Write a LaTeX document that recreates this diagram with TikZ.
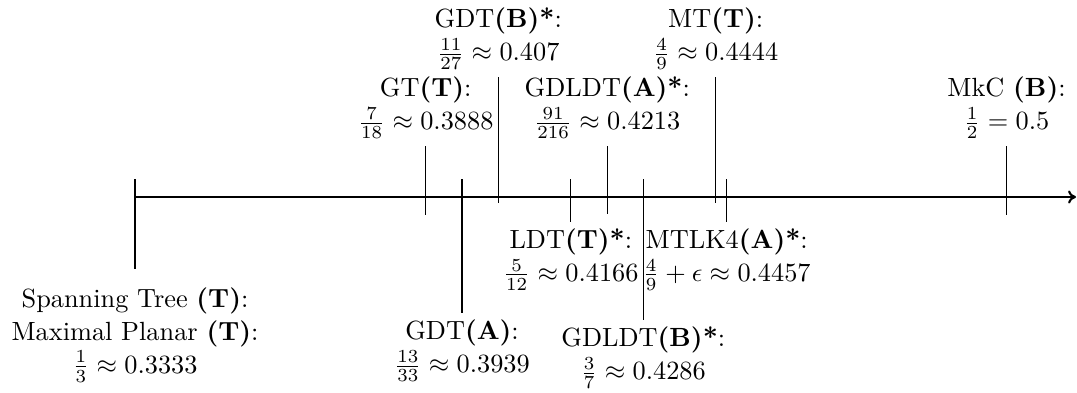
\documentclass[tikz,border=0pt]{standalone}
\usetikzlibrary{arrows.meta}
\begin{document}
\begin{tikzpicture}[x=0.38pt,y=-0.38pt,
  font=\fontsize{10}{12.5}\selectfont,
  axisline/.style={thick,-{To[length=3pt,width=5pt]}},
  tickline/.style={line width=0.4pt},
  uplabel/.style={anchor=south,align=center,inner sep=2.5pt},
  downlabel/.style={anchor=north,align=center,inner sep=2.5pt}]
\useasboundingbox (0,0) rectangle (1077,392);

% axis
\coordinate (axis-start) at (135,197);
\coordinate (axis-end) at (1076,197);
\draw[axisline] (axis-start) -- (axis-end);

% ticks with labels above the axis
\coordinate (gt-top) at (425.7,146);   \coordinate (gt-bot) at (425.7,215);
\coordinate (gdtb-top) at (498.3,77);  \coordinate (gdtb-bot) at (498.3,203);
\coordinate (gdldta-top) at (607.3,146); \coordinate (gdldta-bot) at (607.3,214);
\coordinate (mt-top) at (715.7,77);    \coordinate (mt-bot) at (715.7,203);
\coordinate (mkc-top) at (1006.5,146); \coordinate (mkc-bot) at (1006.5,215);

% ticks with labels below the axis
\coordinate (st-top) at (135,179);     \coordinate (st-bot) at (135,269);
\coordinate (gdta-top) at (462,179);   \coordinate (gdta-bot) at (462,313);
\coordinate (ldt-top) at (570.8,179);  \coordinate (ldt-bot) at (570.8,221.7);
\coordinate (gdldtb-top) at (643.3,179); \coordinate (gdldtb-bot) at (643.3,320);
\coordinate (mtlk-top) at (726.7,179); \coordinate (mtlk-bot) at (726.7,221.7);

\foreach \t in {gt,gdtb,gdldta,mt,mkc,st,gdta,ldt,gdldtb,mtlk}
  \draw[tickline] (\t-top) -- (\t-bot);

% labels above
\node[uplabel] (gt) at (gt-top) {GT\textbf{(T)}:\\ $\frac{7}{18}\approx 0.3888$};
\node[uplabel] (gdtb) at (gdtb-top) {GDT\textbf{(B)*}:\\ $\frac{11}{27}\approx 0.407$};
\node[uplabel] (gdldta) at (gdldta-top) {GDLDT\textbf{(A)*}:\\ $\frac{91}{216}\approx 0.4213$};
\node[uplabel] (mt) at (mt-top) {MT\textbf{(T)}:\\ $\frac{4}{9}\approx 0.4444$};
\node[uplabel] (mkc) at (mkc-top) {MkC \textbf{(B)}:\\ $\frac{1}{2}=0.5$};

% labels below
\node[downlabel,yshift=-4.4pt] (st) at (st-bot) {Spanning Tree \textbf{(T)}:\\ Maximal Planar \textbf{(T)}:\\ $\frac{1}{3}\approx 0.3333$};
\node[downlabel] (gdta) at (gdta-bot) {GDT\textbf{(A)}:\\ $\frac{13}{33}\approx 0.3939$};
\node[downlabel] (ldt) at (ldt-bot) {LDT\textbf{(T)*}:\\ $\frac{5}{12}\approx 0.4166$};
\node[downlabel] (gdldtb) at (gdldtb-bot) {GDLDT\textbf{(B)*}:\\ $\frac{3}{7}\approx 0.4286$};
\node[downlabel] (mtlk) at (mtlk-bot) {MTLK4\textbf{(A)*}:\\ $\frac{4}{9}+\epsilon\approx 0.4457$};
\end{tikzpicture}
\end{document}
